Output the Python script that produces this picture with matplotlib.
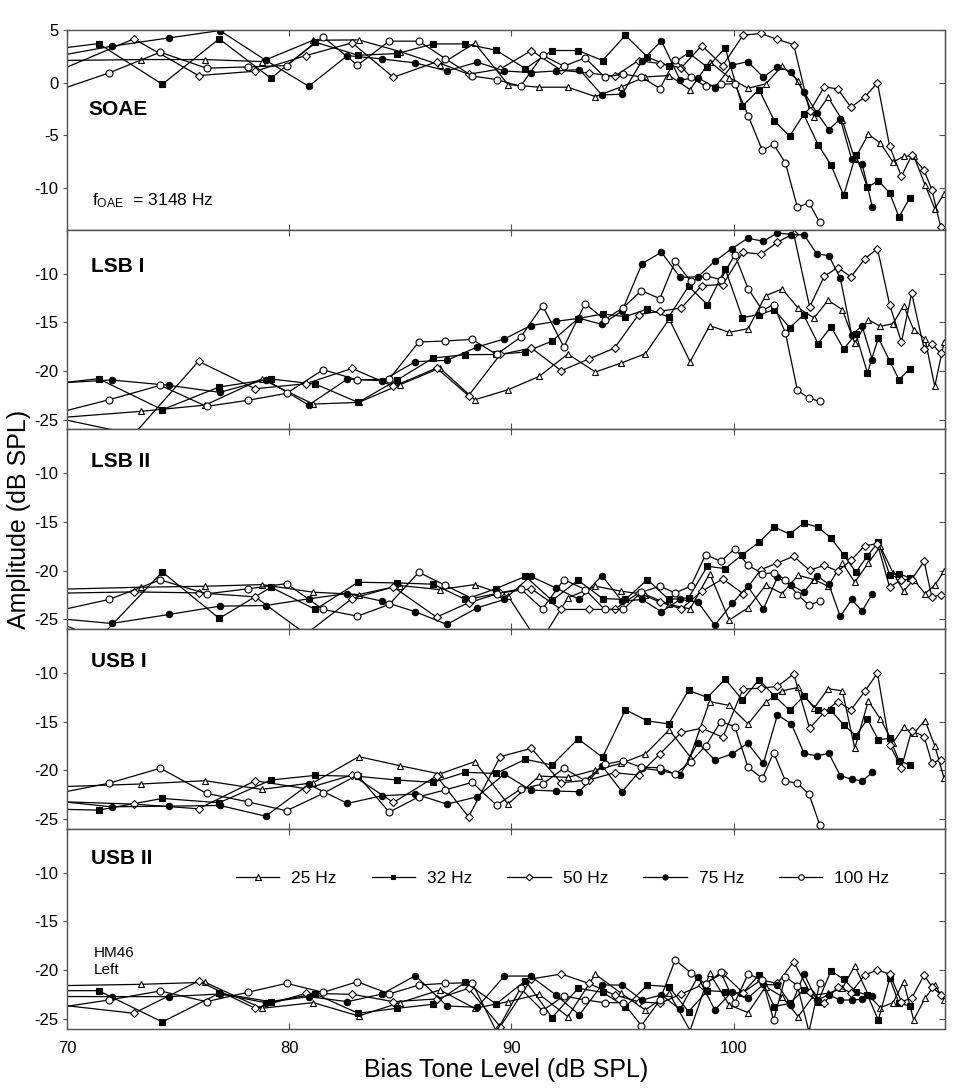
import matplotlib
matplotlib.use("Agg")
import matplotlib.pyplot as plt

plt.rcParams["font.family"] = ["Liberation Sans", "DejaVu Sans"]
plt.rcParams["axes.unicode_minus"] = False

# bias tone levels (dB SPL) for each bias frequency; first point lies left of the plot
X25 = [69.6, 73.31, 76.22, 78.76, 81.08, 83.13, 84.99, 86.78, 88.35, 89.85, 91.25, 92.54, 93.78,
       94.94, 96.03, 97.1, 98.04, 98.92, 99.8, 100.65, 101.44, 102.18, 102.9, 103.62, 104.25,
       104.89, 105.45, 106.06, 106.6, 107.17, 107.65, 108.1, 108.61, 109.05, 109.47]
X32 = [68.2, 71.42, 74.29, 76.85, 79.18, 81.18, 83.1, 84.86, 86.48, 87.93, 89.31, 90.63, 91.83,
       93.0, 94.1, 95.13, 96.12, 97.08, 97.97, 98.82, 99.62, 100.39, 101.14, 101.83, 102.52,
       103.15, 103.8, 104.38, 104.95, 105.5, 106.02, 106.51, 107.02, 107.44, 107.92]
X50 = [69.7, 73.01, 75.92, 78.47, 80.75, 82.83, 84.69, 86.63, 88.07, 89.5, 90.9, 92.24, 93.48,
       94.64, 95.72, 96.68, 97.64, 98.57, 99.51, 100.42, 101.23, 101.97, 102.7, 103.42, 104.08,
       104.68, 105.28, 105.9, 106.47, 107.02, 107.55, 108.01, 108.57, 108.92, 109.32]
X75 = [69.1, 72.01, 74.59, 76.88, 78.94, 80.88, 82.62, 84.18, 85.68, 87.1, 88.46, 89.68, 90.86,
       92.0, 93.06, 94.07, 94.98, 95.88, 96.75, 97.59, 98.39, 99.15, 99.93, 100.63, 101.34,
       101.97, 102.6, 103.17, 103.74, 104.28, 104.8, 105.31, 105.78, 106.24]
X100 = [69.4, 71.89, 74.2, 76.28, 78.13, 79.88, 81.53, 83.07, 84.5, 85.83, 87.02, 88.23, 89.33,
        90.41, 91.4, 92.36, 93.32, 94.19, 95.03, 95.85, 96.68, 97.37, 98.07, 98.74, 99.42,
        100.05, 100.65, 101.29, 101.8, 102.33, 102.87, 103.39, 103.87]

# SOAE amplitude (dB SPL)
SOAE_25 = [2.1, 2.19, 2.19, 2.0, 4.03, 4.06, 2.95, 1.68, 3.75, -0.19, -0.44, -0.44, -1.33, -0.41,
           0.54, 0.67, -0.67, 2.0, 0.48, -0.54, -0.13, 1.56, 0.19, -3.27, -1.4, -3.59, -7.27,
           -4.92, -5.75, -7.56, -7.02, -6.95, -9.71, -12.0, -10.57]
SOAE_32 = [2.86, 3.71, -0.16, 4.16, 0.41, 3.84, 2.6, 2.76, 3.68, 3.68, 3.08, 1.33, 3.05, 3.05,
           2.1, 4.5, 2.44, 1.56, 2.83, 1.46, 3.3, -2.25, -0.67, -3.62, -5.11, -3.02, -5.9, -7.84,
           -10.73, -6.86, -9.97, -9.33, -10.5, -12.79, -10.98]
SOAE_50 = [1.2, 4.16, 0.67, 1.08, 2.57, 3.78, 0.51, 1.97, 0.79, 1.3, 3.05, 1.17, 0.92, 0.6, 2.1,
           1.81, 1.4, 3.52, 1.62, 4.51, 4.67, 4.1, 3.62, -2.73, -0.41, -0.6, -2.35, -1.37, -0.03,
           -6.06, -8.92, -6.92, -8.35, -10.19, -13.78]
SOAE_75 = [2.35, 3.46, 4.25, 4.95, 2.13, -0.35, 2.57, 2.25, 1.87, 1.11, 1.94, 1.11, 0.95, 1.11,
           1.24, -1.17, -1.11, 2.1, 3.97, 0.25, 0.48, -0.48, 1.65, 2.0, 0.51, 1.52, 1.02, -0.92,
           -2.86, -4.48, -3.46, -7.3, -7.71, -11.84]
SOAE_100 = [-0.88, 0.92, 2.89, 1.37, 1.49, 1.62, 4.35, 1.65, 3.94, 3.94, 2.29, 0.63, 0.29, -0.35,
            2.6, 1.56, 2.35, 0.54, 0.8, 0.54, -0.57, 2.19, 0.51, -0.35, -0.16, -0.1, -3.14, -6.44,
            -5.87, -7.65, -11.87, -11.43, -13.3]

# lower sideband I
LSB1_25 = [-24.8, -24.14, -23.5, -20.82, -23.39, -23.22, -21.4, -19.69, -22.95, -21.92, -20.55,
           -18.25, -20.1, -19.18, -18.22, -14.66, -19.04, -15.34, -16.03, -15.65, -12.26, -11.58,
           -13.53, -14.55, -12.74, -13.7, -17.12, -14.73, -15.41, -15.14, -13.29, -15.75, -16.68,
           -21.58, -17.02]
LSB1_32 = [-21.6, -20.79, -23.97, -21.64, -20.82, -21.34, -23.22, -20.92, -18.66, -18.32, -18.3,
           -18.05, -16.92, -14.62, -14.14, -14.42, -13.63, -14.45, -11.3, -13.18, -9.52, -14.52,
           -14.21, -13.7, -15.55, -14.25, -17.19, -15.45, -17.74, -16.2, -20.2, -16.61, -18.94,
           -20.89, -19.79]
LSB1_50 = [-24.9, -26.5, -19.0, -21.82, -21.3, -19.73, -21.58, -19.69, -22.53, -18.3, -17.64,
           -19.97, -18.77, -17.64, -14.21, -13.87, -13.53, -11.23, -11.13, -7.81, -8.01, -6.78,
           -5.89, -13.42, -10.27, -9.38, -10.34, -8.49, -7.43, -13.18, -17.05, -12.02, -17.71,
           -17.19, -18.2]
LSB1_75 = [-21.3, -20.92, -21.47, -22.19, -20.89, -23.49, -20.82, -20.99, -19.04, -18.9, -17.53,
           -16.71, -15.34, -14.9, -14.59, -15.21, -13.84, -8.97, -7.81, -10.38, -10.34, -8.73,
           -7.43, -6.37, -6.68, -5.82, -5.99, -6.03, -7.98, -8.15, -10.48, -16.27, -15.38, -18.84]
LSB1_100 = [-24.4, -22.95, -21.47, -23.63, -23.01, -22.29, -19.86, -20.92, -20.82, -17.02, -16.92,
            -16.75, -18.29, -16.54, -13.29, -17.53, -13.08, -14.73, -13.49, -11.75, -12.57, -8.73,
            -10.79, -10.21, -10.62, -8.05, -11.54, -13.77, -13.18, -16.1, -21.99, -22.77, -23.12]

# lower sideband II
LSB2_25 = [-21.9, -21.69, -21.59, -21.42, -22.2, -22.44, -21.52, -21.93, -21.42, -22.6, -27.5,
           -22.78, -21.59, -22.1, -22.44, -23.46, -23.91, -20.29, -25.06, -23.8, -21.49, -22.34,
           -20.46, -20.9, -21.59, -19.2, -21.18, -19.2, -17.5, -20.2, -22.1, -20.9, -22.34,
           -21.49, -20.05]
LSB2_32 = [-24.0, -27.0, -20.12, -24.89, -21.69, -23.97, -21.18, -21.25, -21.38, -22.95, -21.83,
           -20.57, -23.05, -20.97, -22.85, -22.95, -20.91, -22.95, -22.78, -19.54, -19.78, -18.35,
           -17.09, -15.52, -16.24, -15.11, -15.52, -16.65, -18.35, -20.16, -18.45, -17.06, -20.4,
           -20.29, -20.74]
LSB2_50 = [-22.3, -22.17, -22.27, -22.68, -26.5, -22.85, -21.66, -24.76, -23.29, -22.27, -21.86,
           -23.97, -23.97, -23.97, -22.27, -23.22, -23.91, -22.1, -20.84, -22.34, -19.88, -19.2,
           -18.52, -19.95, -19.44, -20.05, -18.93, -17.43, -17.23, -21.69, -20.9, -20.9, -19.03,
           -22.71, -22.44]
LSB2_75 = [-24.8, -25.41, -24.49, -23.63, -23.57, -22.88, -22.34, -23.12, -24.21, -25.51, -23.8,
           -22.95, -20.57, -21.76, -22.95, -20.5, -23.12, -22.95, -24.21, -22.95, -23.22, -25.58,
           -23.36, -21.59, -23.91, -20.67, -21.49, -22.2, -20.5, -21.38, -24.69, -22.95, -24.14,
           -22.37]
LSB2_100 = [-24.2, -22.95, -20.94, -22.37, -21.86, -21.32, -23.97, -24.66, -23.46, -20.16, -21.49,
            -22.85, -22.34, -21.86, -23.91, -20.9, -21.93, -23.97, -23.97, -22.2, -21.59, -22.27,
            -21.59, -18.35, -19.03, -17.74, -19.44, -20.29, -20.22, -20.9, -22.44, -23.53, -23.12]

# upper sideband I
USB1_25 = [-21.67, -21.39, -21.05, -21.94, -21.26, -18.58, -19.51, -20.36, -19.09, -23.45, -20.57,
           -20.71, -19.95, -19.27, -18.3, -15.83, -18.58, -12.92, -13.33, -15.22, -12.99, -11.82,
           -11.48, -13.6, -11.61, -11.82, -17.72, -12.85, -14.7, -17.14, -15.56, -16.18, -14.87,
           -17.45, -20.81]
USB1_32 = [-23.9, -24.07, -22.87, -23.31, -20.98, -20.5, -20.6, -20.98, -21.22, -20.19, -20.3,
           -18.85, -19.44, -16.76, -18.65, -13.77, -14.91, -15.22, -11.78, -12.5, -10.62, -12.75,
           -10.69, -12.33, -13.84, -12.4, -13.84, -13.84, -15.32, -16.42, -14.74, -16.86, -16.69,
           -18.99, -19.44]
USB1_50 = [-23.2, -23.45, -23.93, -21.05, -21.87, -20.47, -23.28, -20.57, -24.76, -18.58, -17.72,
           -21.26, -20.98, -20.23, -20.47, -18.3, -16.1, -15.66, -16.59, -11.65, -11.55, -11.37,
           -10.1, -15.66, -14.02, -12.92, -13.77, -11.89, -10.0, -17.38, -19.71, -15.9, -16.52,
           -19.2, -18.92]
USB1_75 = [-23.04, -23.73, -23.66, -23.59, -24.69, -21.43, -23.38, -22.59, -22.42, -23.45, -22.7,
           -20.36, -22.01, -22.11, -22.18, -19.5, -22.18, -19.78, -20.02, -20.47, -17.14, -18.92,
           -18.3, -17.21, -19.27, -14.29, -15.22, -18.24, -18.51, -18.24, -20.54, -20.88, -21.09,
           -20.19]
USB1_100 = [-22.42, -21.31, -19.77, -22.35, -23.21, -24.14, -22.35, -20.47, -24.28, -22.7, -22.0,
            -21.22, -23.56, -21.91, -21.39, -19.78, -21.05, -19.37, -19.0, -19.68, -19.71, -20.37,
            -19.09, -17.48, -14.98, -15.49, -19.68, -20.81, -18.17, -21.08, -21.32, -22.42, -25.55]

# upper sideband II
USB2_25 = [-21.59, -21.45, -21.24, -23.91, -23.33, -24.7, -23.33, -22.03, -23.91, -23.23, -22.47,
           -24.76, -20.42, -22.37, -24.08, -22.37, -26.2, -20.32, -23.57, -24.35, -21.69, -22.71,
           -24.76, -22.54, -22.37, -21.86, -19.54, -22.54, -23.84, -23.33, -21.18, -25.11, -22.88,
           -21.52, -23.06]
USB2_32 = [-22.1, -22.1, -25.31, -22.37, -23.23, -22.44, -24.42, -23.91, -23.5, -21.24, -23.47,
           -21.07, -24.86, -21.86, -22.27, -23.74, -21.52, -21.69, -24.25, -22.1, -22.2, -22.37,
           -20.49, -23.74, -23.4, -22.03, -23.23, -20.05, -20.94, -22.2, -22.54, -25.11, -20.83,
           -23.4, -23.67]
USB2_50 = [-23.57, -24.42, -21.11, -23.91, -22.37, -22.47, -23.23, -22.95, -21.86, -25.8, -20.9,
           -20.39, -21.35, -22.54, -23.23, -23.4, -22.44, -21.52, -20.32, -22.3, -21.0, -21.35,
           -19.13, -22.2, -23.33, -21.69, -22.3, -20.49, -19.98, -20.39, -23.23, -22.88, -20.49,
           -21.69, -22.54]
USB2_75 = [-22.7, -22.71, -22.71, -22.44, -23.33, -22.71, -23.23, -22.44, -20.56, -23.67, -23.81,
           -20.6, -20.6, -22.54, -24.59, -21.52, -21.52, -23.06, -22.54, -24.01, -20.66, -24.08,
           -22.2, -22.88, -21.45, -21.52, -23.57, -20.39, -23.06, -22.54, -23.06, -23.06, -22.99,
           -22.64]
USB2_100 = [-23.91, -23.06, -22.13, -23.23, -22.27, -21.35, -22.27, -21.18, -22.44, -21.52, -21.35,
            -21.28, -26.3, -21.86, -24.15, -22.64, -23.06, -23.33, -23.33, -25.69, -23.06, -18.95,
            -20.25, -21.42, -20.22, -23.33, -20.39, -21.0, -25.11, -20.66, -21.59, -26.3, -21.35]

SERIES_LABELS = ["25 Hz", "32 Hz", "50 Hz", "75 Hz", "100 Hz"]
SERIES_X = [X25, X32, X50, X75, X100]
PANEL_NAMES = ["SOAE", "LSB I", "LSB II", "USB I", "USB II"]
PANEL_DATA = [
    [SOAE_25, SOAE_32, SOAE_50, SOAE_75, SOAE_100],
    [LSB1_25, LSB1_32, LSB1_50, LSB1_75, LSB1_100],
    [LSB2_25, LSB2_32, LSB2_50, LSB2_75, LSB2_100],
    [USB1_25, USB1_32, USB1_50, USB1_75, USB1_100],
    [USB2_25, USB2_32, USB2_50, USB2_75, USB2_100],
]

# marker, face colour, size
STYLES = [("^", "white", 4.8), ("s", "black", 4.2), ("D", "white", 4.3),
          ("o", "black", 4.6), ("o", "white", 5.0)]
SPINE = "#505050"

fig, axes = plt.subplots(5, 1, sharex=True, figsize=(9.76, 10.92), dpi=100)
fig.subplots_adjust(left=0.0686, right=0.968, top=0.9725, bottom=0.058, hspace=0)

for i, ax in enumerate(axes):
    lines = []
    for xs, ys, lab, (mk, fc, ms) in zip(SERIES_X, PANEL_DATA[i], SERIES_LABELS, STYLES):
        ln, = ax.plot(xs, ys, color="black", lw=0.9, marker=mk, ms=ms, mfc=fc,
                      mec="black", mew=0.8, label=lab)
        lines.append(ln)

    ax.set_xlim(70, 109.5)
    if i == 0:
        ax.set_ylim(-14, 5)
        yt = [5, 0, -5, -10]
    else:
        ax.set_ylim(-26, -5.5)
        yt = [-10, -15, -20, -25]
    ax.set_yticks(yt)
    ax.set_xticks([70, 80, 90, 100])
    ax.tick_params(axis="x", direction="in", top=True, bottom=True, length=4.5,
                   color=SPINE, labelsize=12, pad=9)
    ax.tick_params(axis="y", direction="out", length=3, color=SPINE, labelsize=12, pad=3)
    for sp in ax.spines.values():
        sp.set_color(SPINE)
        sp.set_linewidth(1.0)

    sec = ax.secondary_yaxis("right")
    sec.set_yticks(yt)
    sec.tick_params(axis="y", direction="in", length=4.5, color=SPINE, labelright=False)
    sec.spines["right"].set_color(SPINE)

    label_y = [0.573, 0.79, 0.813, 0.81, 0.824][i]
    ax.text(0.027 if i else 0.025, label_y, PANEL_NAMES[i], transform=ax.transAxes,
            fontsize=15, fontweight="bold", va="baseline")

axes[0].text(0.028, 0.122, r"$\mathregular{f_{OAE}}$  = 3148 Hz", transform=axes[0].transAxes,
             fontsize=12.5, va="baseline")
axes[4].text(0.031, 0.361, "HM46", transform=axes[4].transAxes, fontsize=11, va="baseline")
axes[4].text(0.031, 0.274, "Left", transform=axes[4].transAxes, fontsize=11, va="baseline")

axes[4].legend(handles=lines, loc="center left", bbox_to_anchor=(0.1925, 0.751), ncol=5,
               frameon=False, fontsize=12.5, handlelength=2.5, handletextpad=0.7,
               columnspacing=2.0, borderpad=0, borderaxespad=0, markerscale=0.8)

axes[4].set_xlabel("Bias Tone Level (dB SPL)", fontsize=18, labelpad=1)
fig.text(0.019, 0.524, "Amplitude (dB SPL)", rotation=90, va="center", ha="center", fontsize=18)

plt.savefig("out.png")
plt.close()
